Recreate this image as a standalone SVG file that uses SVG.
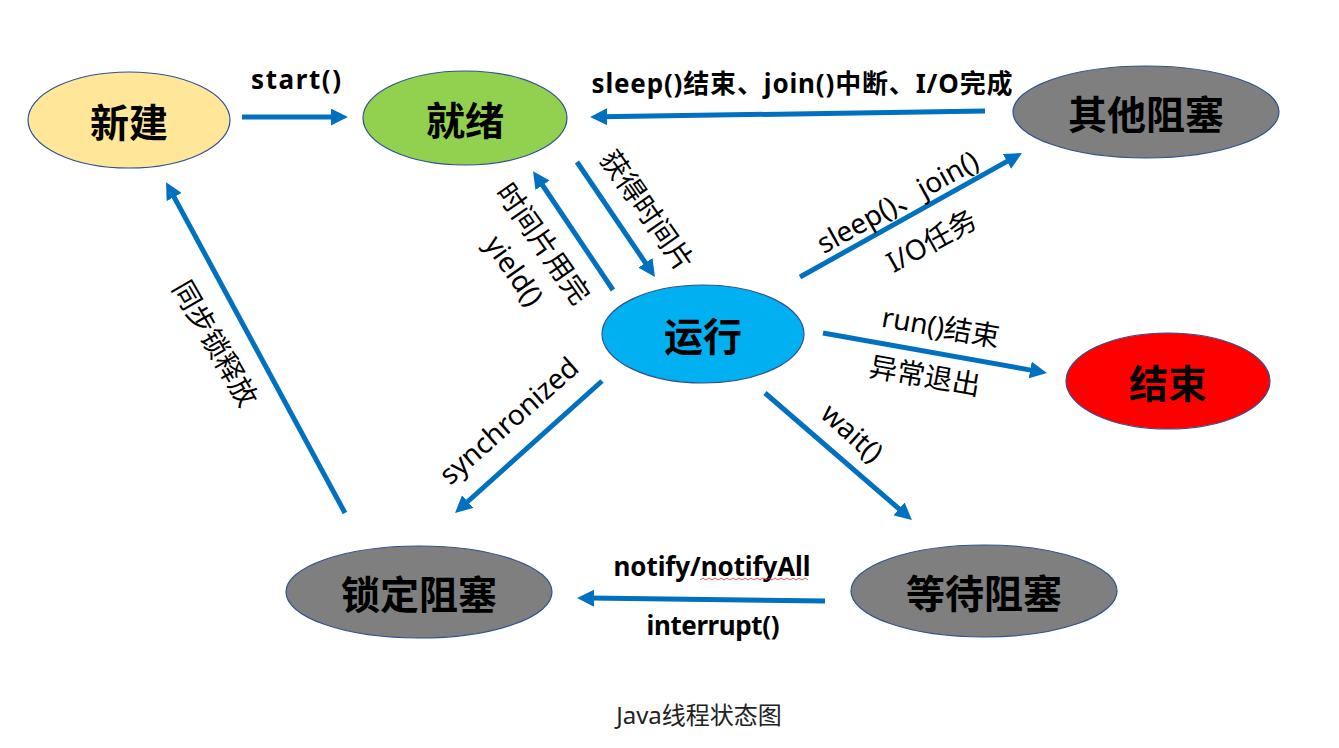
<svg xmlns="http://www.w3.org/2000/svg" width="1339" height="748" viewBox="0 0 1339 748">
<style>
.node{stroke:#2F528F;stroke-width:1.2}
.nl{font-family:"Noto Sans","Noto Sans CJK SC",sans-serif;font-weight:bold;font-size:39px;fill:#000;text-anchor:middle;dominant-baseline:central}
.hl{font-family:"Noto Sans","Noto Sans CJK SC",sans-serif;font-weight:bold;font-size:26px;fill:#000;text-anchor:middle}
.rl{font-family:"Noto Sans","Noto Sans CJK SC",sans-serif;font-size:28px;fill:#000;text-anchor:middle;dominant-baseline:central}
.cap{font-family:"Noto Sans","Noto Sans CJK SC",sans-serif;font-size:24px;fill:#222;text-anchor:middle}
.edge{stroke:#0070C0;stroke-width:5;fill:none;marker-end:url(#ah)}
</style>
<defs>
<marker id="ah" viewBox="0 0 10 10" refX="3" refY="5" markerWidth="3.4" markerHeight="3.4" orient="auto">
<path d="M0,0 L10,5 L0,10 z" fill="#0070C0"/>
</marker>
</defs>
<rect width="1339" height="748" fill="#fff"/>
<g id="connectors">
<line class="edge" x1="242" y1="117" x2="336" y2="117"/>
<line class="edge" x1="985" y1="111" x2="602" y2="116.8"/>
<line class="edge" x1="577" y1="162" x2="648.3" y2="267.1"/>
<line class="edge" x1="613" y1="290" x2="539.7" y2="181"/>
<line class="edge" x1="800" y1="277" x2="1011.5" y2="158.9"/>
<line class="edge" x1="823" y1="333" x2="1035.2" y2="370.9"/>
<line class="edge" x1="602" y1="381" x2="463.9" y2="505"/>
<line class="edge" x1="765" y1="393" x2="902.9" y2="512.2"/>
<line class="edge" x1="825" y1="601" x2="589" y2="598.1"/>
<line class="edge" x1="345" y1="513" x2="171.7" y2="192.6"/>
</g>
<g id="edge-labels">
<text class="hl" x="296" y="89" textLength="90">start()</text>
<text class="hl" x="802" y="93" textLength="421">sleep()结束、join()中断、I/O完成</text>
<text class="rl" transform="translate(648,210) rotate(55)">获得时间片</text>
<text class="rl" transform="translate(544,243) rotate(55)">时间片用完</text>
<text class="rl" transform="translate(515,270) rotate(55)">yield()</text>
<text class="rl" transform="translate(897,201) rotate(-29)">sleep()、join()</text>
<text class="rl" transform="translate(931,240) rotate(-29)">I/O任务</text>
<text class="rl" transform="translate(941,326) rotate(10)">run()结束</text>
<text class="rl" transform="translate(925,375) rotate(10)">异常退出</text>
<text class="rl" transform="translate(508,420) rotate(-41.5)">synchronized</text>
<text class="rl" transform="translate(853,432) rotate(42)">wait()</text>
<text class="rl" transform="translate(216,343) rotate(60)">同步锁释放</text>
<text class="hl" x="712" y="576" textLength="197">notify/notifyAll</text>
<path d="M700,580 l3,-2 l3,2 l3,-2 l3,2 l3,-2 l3,2 l3,-2 l3,2 l3,-2 l3,2 l3,-2 l3,2 l3,-2 l3,2 l3,-2 l3,2 l3,-2 l3,2 l3,-2 l3,2 l3,-2 l3,2 l3,-2 l3,2 l3,-2 l3,2 l3,-2 l3,2 l3,-2 l3,2 l3,-2 l3,2 l3,-2 l3,2 l3,-2 l3,2" fill="none" stroke="#E03030" stroke-width="0.8"/>
<text class="hl" x="713" y="635" textLength="133">interrupt()</text>
</g>
<g id="node-new">
<ellipse class="node" cx="129" cy="120" rx="101" ry="48" fill="#FFE699"/>
<text class="nl" x="129" y="121">新建</text>
</g>
<g id="node-ready">
<ellipse class="node" cx="465" cy="118" rx="102" ry="47" fill="#92D050"/>
<text class="nl" x="465" y="119">就绪</text>
</g>
<g id="node-otherblock">
<ellipse class="node" cx="1146" cy="112" rx="133" ry="46" fill="#7F7F7F"/>
<text class="nl" x="1146" y="113">其他阻塞</text>
</g>
<g id="node-running">
<ellipse class="node" cx="703" cy="334" rx="101" ry="49" fill="#00B0F0"/>
<text class="nl" x="703" y="335">运行</text>
</g>
<g id="node-end">
<ellipse class="node" cx="1168" cy="381" rx="102" ry="48" fill="#FF0000"/>
<text class="nl" x="1168" y="382">结束</text>
</g>
<g id="node-lockblock">
<ellipse class="node" cx="419" cy="592" rx="133" ry="46" fill="#7F7F7F"/>
<text class="nl" x="419" y="593">锁定阻塞</text>
</g>
<g id="node-waitblock">
<ellipse class="node" cx="984" cy="591" rx="133" ry="46" fill="#7F7F7F"/>
<text class="nl" x="984" y="592">等待阻塞</text>
</g>
<text class="cap" x="699" y="724">Java线程状态图</text>
</svg>
